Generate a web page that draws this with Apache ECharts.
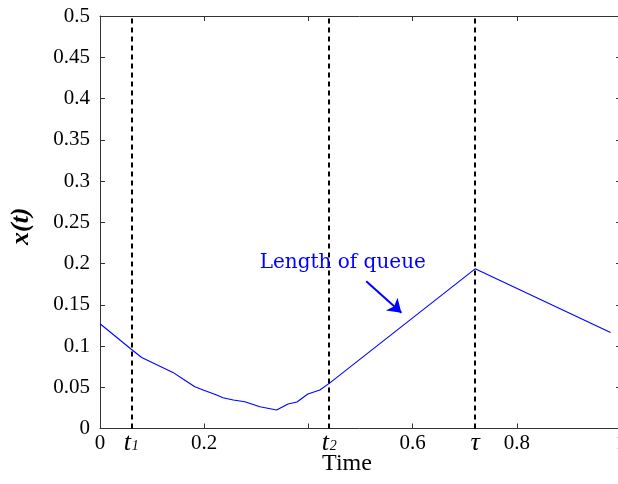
<!DOCTYPE html>
<html>
<head>
<meta charset="utf-8">
<script src="https://cdn.jsdelivr.net/npm/echarts@6/dist/echarts.min.js"></script>
<style>html,body{margin:0;padding:0;background:#fff}#c{width:618px;height:484px}</style>
</head>
<body>
<div id="c"></div>
<script>
// ---- data ----
const T1 = 0.06, T2 = 0.44, TAU = 0.72;
const timeValues = [0, 0.06, 0.08, 0.14, 0.16, 0.182, 0.198, 0.224, 0.236, 0.256, 0.278, 0.307, 0.339, 0.361, 0.378, 0.399, 0.422, 0.44, 0.72, 0.98];
const queueValues = [0.127, 0.096, 0.086, 0.068, 0.0596, 0.0506, 0.0466, 0.0406, 0.0373, 0.0345, 0.0325, 0.0264, 0.0224, 0.0297, 0.0321, 0.0418, 0.0466, 0.0547, 0.1935, 0.1165];
const xTickValues = [0, 0.2, 0.4, 0.6, 0.8, 1];
const xLabelValues = [0, T1, 0.2, T2, 0.6, TAU, 0.8, 1];
const xLabelTexts = ['0', '{it|t}{sub|1}', '0.2', '{it|t}{sub|2}', '0.6', '{it|τ}', '0.8', '1'];
const annotationText = 'Length of queue';
const annotationPos = [0.466, 0.2004];
const arrowFrom = [0.511, 0.1786];
const arrowTo = [0.5785, 0.1402];

const chart = echarts.init(document.getElementById('c'));
const serif = 'Liberation Serif';
const axisColor = '#333';

const seriesData = timeValues.map((t, i) => [t, queueValues[i]]);

function xFmt(v) {
  for (let i = 0; i < xLabelValues.length; i++) {
    if (Math.abs(xLabelValues[i] - v) < 1e-9) return xLabelTexts[i];
  }
  return '';
}

const option = {
  animation: false,
  grid: { left: 100, top: 16, right: -3, bottom: 55.5, containLabel: false, outerBoundsMode: 'none' },
  xAxis: [{
    type: 'value', min: 0, max: 1, interval: 0.2, position: 'bottom',
    name: 'Time', nameLocation: 'middle', nameGap: 23, nameMoveOverlap: false,
    nameTextStyle: { fontFamily: serif, fontSize: 24, color: '#000', padding: [0, 27, 0, 0] },
    axisLine: { show: true, onZero: false, lineStyle: { color: axisColor, width: 1 } },
    axisTick: { show: true, inside: true, length: 5, customValues: xTickValues, lineStyle: { color: axisColor } },
    axisLabel: {
      show: true, customValues: xLabelValues, formatter: xFmt, margin: 4,
      fontFamily: serif, fontSize: 21, lineHeight: 22, color: '#000',
      rich: {
        it: { fontFamily: serif, fontStyle: 'italic', fontSize: 26, lineHeight: 22, color: '#000' },
        sub: { fontFamily: serif, fontStyle: 'italic', fontSize: 14, lineHeight: 14, color: '#000', verticalAlign: 'bottom', padding: [0, 0, 1, 1] }
      }
    },
    splitLine: { show: false }
  }, {
    type: 'value', min: 0, max: 1, interval: 0.2, position: 'top',
    axisLine: { show: true, onZero: false, lineStyle: { color: axisColor, width: 1 } },
    axisTick: { show: true, inside: true, length: 5, lineStyle: { color: axisColor } },
    axisLabel: { show: false }, splitLine: { show: false }
  }],
  yAxis: [{
    type: 'value', min: 0, max: 0.5, interval: 0.05, position: 'left',
    name: 'x(t)', nameLocation: 'middle', nameGap: 66, nameMoveOverlap: false,
    nameTextStyle: { fontFamily: serif, fontSize: 26, fontStyle: 'italic', fontWeight: 'bold', color: '#000', padding: [0, 8, 0, 0] },
    axisLine: { show: true, onZero: false, lineStyle: { color: axisColor, width: 1 } },
    axisTick: { show: true, inside: true, length: 5, lineStyle: { color: axisColor } },
    axisLabel: {
      margin: 10, fontFamily: serif, fontSize: 21, color: '#000',
      formatter: v => String(+v.toFixed(2))
    },
    splitLine: { show: false }
  }, {
    type: 'value', min: 0, max: 0.5, interval: 0.05, position: 'right',
    axisLine: { show: true, onZero: false, lineStyle: { color: axisColor, width: 1 } },
    axisTick: { show: true, inside: true, length: 5, lineStyle: { color: axisColor } },
    axisLabel: { show: false }, splitLine: { show: false }
  }],
  series: [{
    type: 'line', name: 'queue', data: seriesData, symbol: 'none',
    lineStyle: { color: '#0000ff', width: 1.1 },
    silent: true,
    markLine: {
      silent: true, symbol: 'none', animation: false,
      label: { show: false },
      lineStyle: { color: '#000', type: [5, 4], width: 2 },
      data: [{ xAxis: T1 }, { xAxis: T2 }, { xAxis: TAU }]
    },
    markPoint: {
      silent: true, symbol: 'circle', symbolSize: 0,
      data: [{ coord: annotationPos, value: annotationText }],
      label: {
        show: true, position: 'inside', formatter: annotationText,
        fontFamily: 'DejaVu Serif', fontSize: 20, color: '#0000ff'
      }
    }
  }, {
    type: 'line', name: 'arrow', data: [], silent: true,
    markLine: {
      silent: true, animation: false,
      symbol: ['none', 'arrow'], symbolSize: 13,
      label: { show: false },
      lineStyle: { color: '#0000ff', type: 'solid', width: 2 },
      itemStyle: { color: '#0000ff' },
      data: [[{ coord: arrowFrom }, { coord: arrowTo }]]
    }
  }]
};
chart.setOption(option);
</script>
</body>
</html>
